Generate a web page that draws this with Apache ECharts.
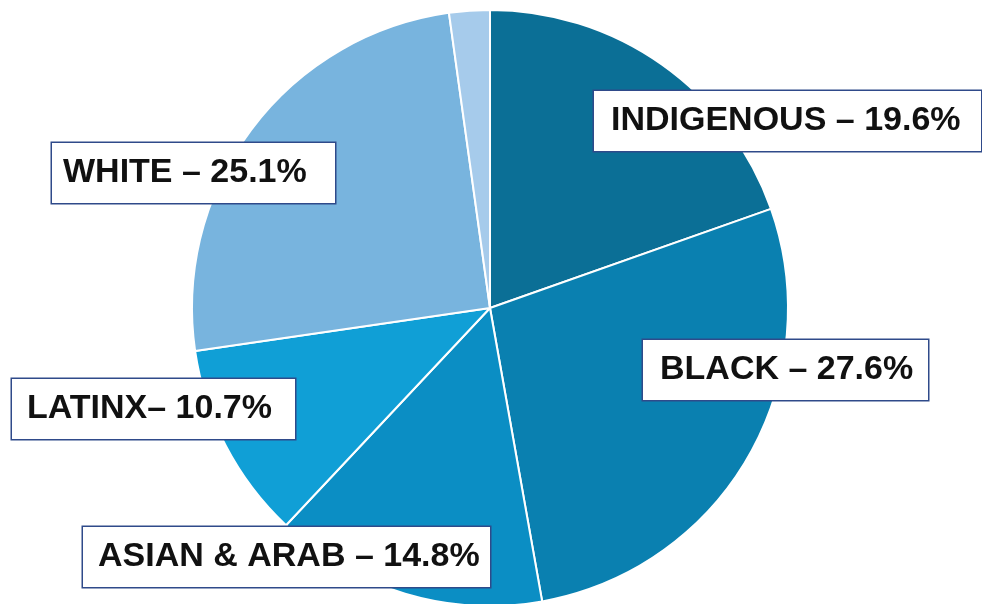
<!DOCTYPE html>
<html>
<head>
<meta charset="utf-8">
<script src="https://cdn.jsdelivr.net/npm/echarts@6/dist/echarts.min.js"></script>
<style>
  html, body { margin: 0; padding: 0; background: #ffffff; }
  #chart { width: 982px; height: 604px; }
</style>
</head>
<body>
<div id="chart"></div>
<script>
// Share of group, clockwise from 12 o'clock
const groups = ["INDIGENOUS", "BLACK", "ASIAN & ARAB", "LATINX", "WHITE", "OTHER"];
const shares = [19.6, 27.6, 14.8, 10.7, 25.1, 2.2];
const showLabel = [true, true, true, true, true, false];

const COLORS = ["#0b6f96", "#0a80b0", "#0b8ec4", "#109fd6", "#78b4de", "#a6cbeb"];

// Label box placement: top-left corner, box width, left padding
const BOXES = [
  { x: 594, y: 91, w: 387, pl: 17 },
  { x: 643, y: 340, w: 285, pl: 17 },
  { x: 83, y: 527, w: 407, pl: 15 },
  { x: 12, y: 379, w: 283, pl: 15 },
  { x: 52, y: 143, w: 283, pl: 11 },
  { x: 0, y: 0, w: 10, pl: 0 },
];

const chart = echarts.init(document.getElementById("chart"));
chart.setOption({
  animation: false,
  series: [
    {
      type: "pie",
      center: [490, 308],
      radius: 298,
      startAngle: 90,
      clockwise: true,
      silent: true,
      itemStyle: { borderColor: "#ffffff", borderWidth: 2 },
      labelLine: { show: false },
      label: {
        show: true,
        position: "inside",
        formatter: (p) => p.name + (p.name === "LATINX" ? "– " : " – ") + p.value + "%",
        fontFamily: '"Liberation Sans", Arial, sans-serif',
        fontWeight: "bold",
        fontSize: 34,
        lineHeight: 34,
        color: "#111111",
        backgroundColor: "#ffffff",
        borderColor: "#2f4a8a",
        borderWidth: 1.5,
      },
      labelLayout: (params) => {
        const b = BOXES[params.dataIndex];
        return { x: b.x, y: b.y, align: "left", verticalAlign: "top", hideOverlap: false };
      },
      data: groups.map((g, i) => ({
        name: g,
        value: shares[i],
        itemStyle: { color: COLORS[i] },
        label: {
          show: showLabel[i],
          width: BOXES[i].w - BOXES[i].pl,
          overflow: "none",
          padding: [13, 0, 13, BOXES[i].pl],
        },
      })),
    },
  ],
});
</script>
</body>
</html>
